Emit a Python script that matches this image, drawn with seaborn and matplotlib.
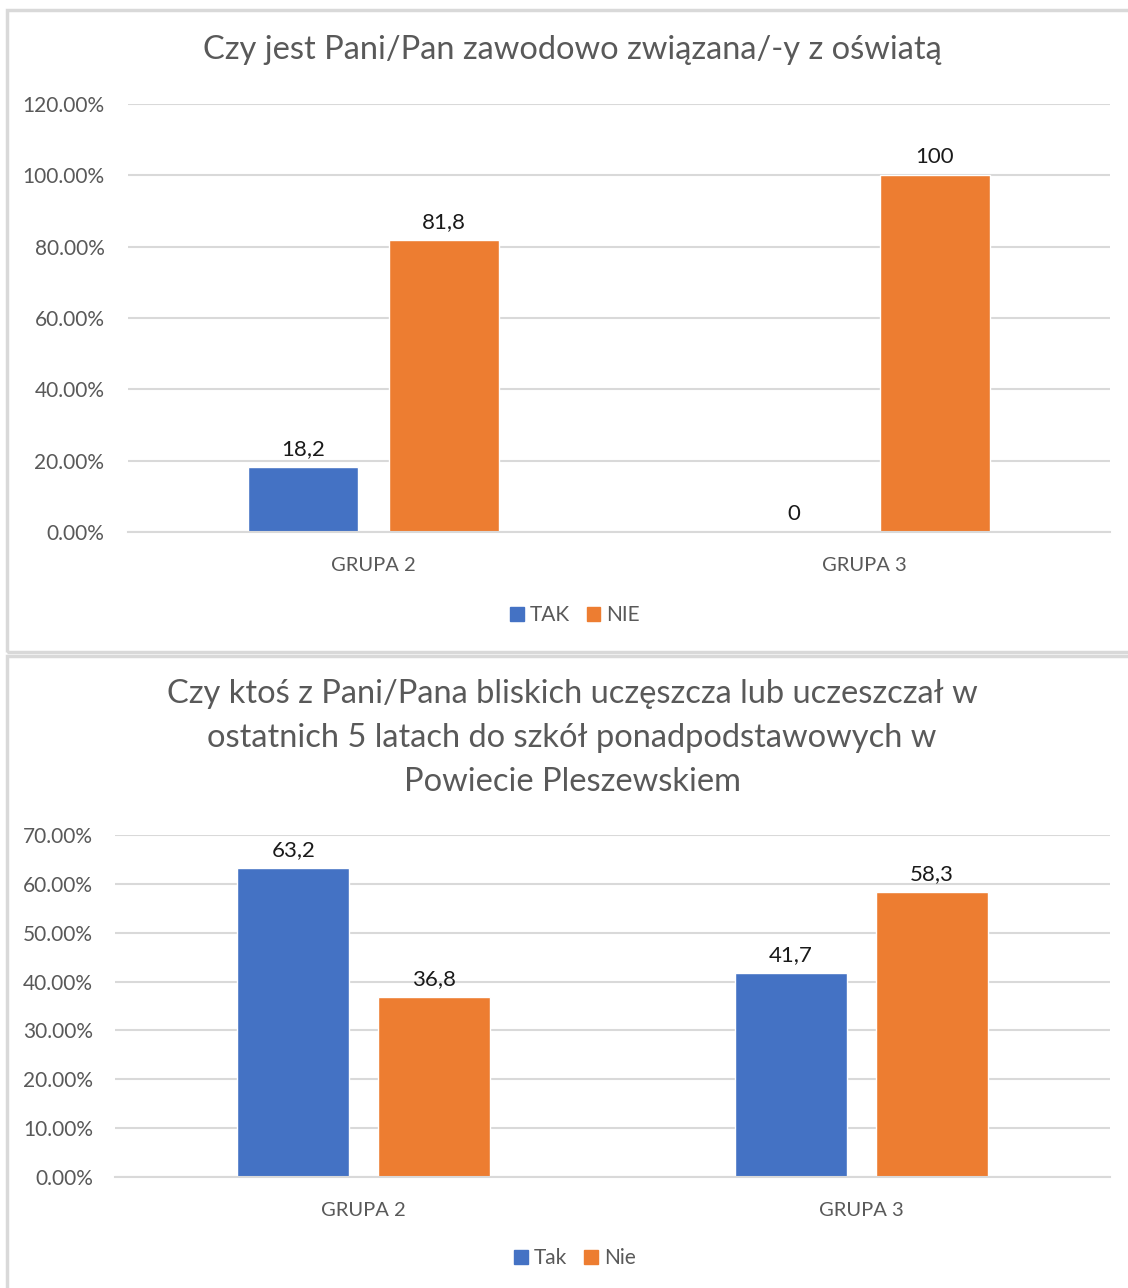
import matplotlib
matplotlib.use("Agg")
import matplotlib.pyplot as plt
import seaborn as sns
import pandas as pd
from matplotlib.patches import Rectangle
from matplotlib.ticker import FuncFormatter, MultipleLocator

# ---- data ----
groups = ["GRUPA 2", "GRUPA 3"]

top_title = "Czy jest Pani/Pan zawodowo związana/-y z oświatą"
top_series = ["TAK", "NIE"]
top_tak = [18.2, 0.0]
top_nie = [81.8, 100.0]

bot_title = ("Czy ktoś z Pani/Pana bliskich uczęszcza lub uczeszczał w\n"
             "ostatnich 5 latach do szkół ponadpodstawowych w\n"
             "Powiecie Pleszewskiem")
bot_series = ["Tak", "Nie"]
bot_tak = [63.2, 41.7]
bot_nie = [36.8, 58.3]

colors = ["#4472C4", "#ED7D31"]
GRAY = "#595959"
GRID = "#D9D9D9"

sns.set_theme(style="white")
plt.rcParams["font.family"] = ["Lato", "DejaVu Sans"]

W, H = 1128, 1288
fig = plt.figure(figsize=(W / 100, H / 100), dpi=100)

# panel borders
def panel(y0, y1):
    fig.patches.append(Rectangle((7 / W, 1 - y1 / H), (W + 10 - 7) / W, (y1 - y0) / H,
                                 transform=fig.transFigure, fill=False,
                                 edgecolor=GRID, linewidth=2.5, zorder=0))
panel(10, 652)
panel(656, H + 10)


def draw(ax, series, a, b, ymax, step, title, title_y, legend_y, gap, width, ypad):
    df = pd.DataFrame({
        "grupa": groups * 2,
        "seria": [series[0]] * len(groups) + [series[1]] * len(groups),
        "val": [v / 100 for v in a] + [v / 100 for v in b],
        "lab": [f"{v:g}".replace(".", ",") for v in a] + [f"{v:g}".replace(".", ",") for v in b],
    })
    sns.barplot(data=df, x="grupa", y="val", hue="seria", palette=colors,
                ax=ax, width=width, gap=gap, saturation=1, errorbar=None)
    for i, cont in enumerate(ax.containers):
        labs = df[df["seria"] == series[i]]["lab"].tolist()
        ax.bar_label(cont, labels=labs, padding=6, fontsize=16, color="#1a1a1a")
    ax.set_ylim(0, ymax)
    ax.yaxis.set_major_locator(MultipleLocator(step))
    ax.yaxis.set_major_formatter(FuncFormatter(lambda v, p: f"{v*100:.2f}%"))
    ax.grid(axis="y", color=GRID, linewidth=1.5)
    ax.set_axisbelow(True)
    for s in ["top", "right", "left"]:
        ax.spines[s].set_visible(False)
    ax.spines["bottom"].set_color(GRID)
    ax.spines["bottom"].set_linewidth(1.5)
    ax.tick_params(axis="y", length=0, pad=ypad, labelsize=15, labelcolor=GRAY)
    ax.tick_params(axis="x", length=0, pad=18, labelsize=14.5, labelcolor=GRAY)
    ax.set_xlabel("")
    ax.set_ylabel("")
    if ax.get_legend():
        ax.get_legend().remove()
    handles = [Rectangle((0, 0), 1, 1, color=c) for c in colors]
    fig.legend(handles, series, loc="center", bbox_to_anchor=(575 / W, 1 - legend_y / H),
               ncol=2, frameon=False, handlelength=0.65, handleheight=0.65,
               columnspacing=0.8, handletextpad=0.3, fontsize=15, labelcolor=GRAY)
    fig.text(572 / W, 1 - title_y / H, title, ha="center", va="center",
             fontsize=23.5, color=GRAY, linespacing=1.6)


ax1 = fig.add_axes([128 / W, 1 - 532 / H, 982 / W, 428 / H])
draw(ax1, top_series, top_tak, top_nie, 1.2, 0.2, top_title, 50, 615, 0.22, 0.574, 17)

ax2 = fig.add_axes([115 / W, 1 - 1177 / H, 995 / W, 342 / H])
draw(ax2, bot_series, bot_tak, bot_nie, 0.7, 0.1, bot_title, 738, 1258, 0.206, 0.567, 16)

fig.savefig("out.png", dpi=100, facecolor="white")
